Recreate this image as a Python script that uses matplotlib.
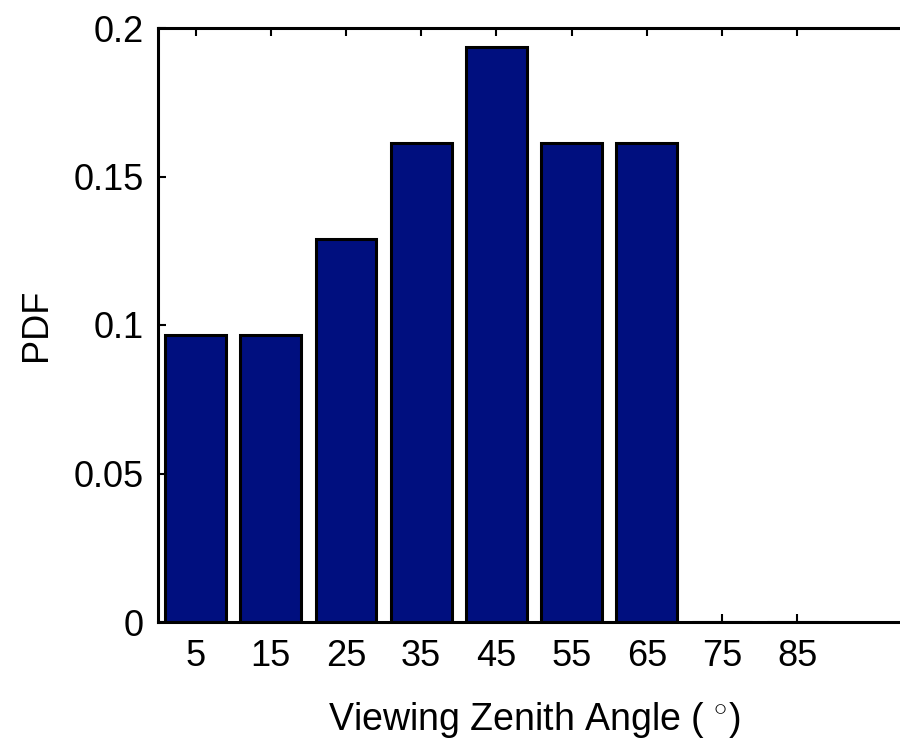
import matplotlib
matplotlib.use("Agg")
import matplotlib.pyplot as plt

angles = [5, 15, 25, 35, 45, 55, 65, 75, 85]
pdf_values = [0.0968, 0.0968, 0.129, 0.1613, 0.1935, 0.1613, 0.1613, 0.0, 0.0]
y_ticks = [0, 0.05, 0.1, 0.15, 0.2]
y_tick_labels = ["0", "0.05", "0.1", "0.15", "0.2"]

plt.rcParams['font.family'] = ['Liberation Sans', 'DejaVu Sans']
plt.rcParams['mathtext.fontset'] = 'custom'
plt.rcParams['mathtext.rm'] = 'Liberation Sans'
plt.rcParams['mathtext.it'] = 'Liberation Sans'

fig = plt.figure(figsize=(9, 7.42), dpi=100)
W, H = 900, 742
left, right, top, bottom = 158, 910, 28, 622
ax = fig.add_axes([left / W, 1 - bottom / H, (right - left) / W, (bottom - top) / H])

ax.bar(angles, pdf_values, width=8.1, color='#000F7F', edgecolor='black', linewidth=2.2, zorder=2)

ax.set_xlim(0, 100)
ax.set_ylim(0, 0.2)
ax.set_xticks(angles)
ax.set_xticklabels([str(a) for a in angles])
ax.set_yticks(y_ticks)
ax.set_yticklabels(y_tick_labels)

ax.tick_params(axis='both', direction='in', length=6, width=1.5, labelsize=26,
               top=True, right=True)
ax.tick_params(axis='x', pad=12)
ax.tick_params(axis='y', pad=10)
for s in ax.spines.values():
    s.set_linewidth(2.2)
    s.set_zorder(3)

ax.set_xlabel("Viewing Zenith Angle ( $^{\\circ}$)", fontsize=27, labelpad=19)
ax.set_ylabel("PDF", fontsize=26, labelpad=14)

fig.savefig("out.png", dpi=100)
